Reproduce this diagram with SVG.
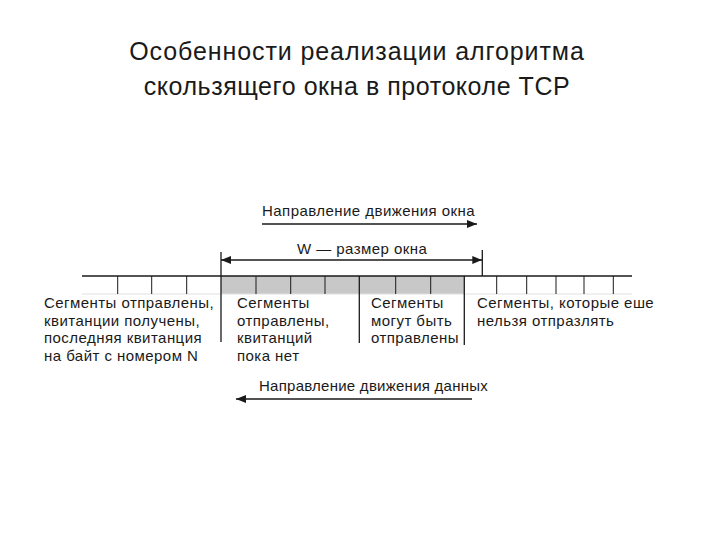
<svg xmlns="http://www.w3.org/2000/svg" width="720" height="540" viewBox="0 0 720 540">
<defs>
<style>
.t{font-family:"Liberation Sans",Arial,sans-serif;fill:#1a1a1a}
.title{font-size:25px;text-anchor:middle;letter-spacing:0.9px}
.lbl{font-size:15px;letter-spacing:0.45px}
.ln{stroke:#1a1a1a;stroke-width:1.3;fill:none}
.cell{stroke:#1a1a1a;stroke-width:1}
</style>
<marker id="ah" viewBox="0 0 10 10" refX="10" refY="5" markerWidth="10" markerHeight="10" markerUnits="userSpaceOnUse" orient="auto-start-reverse">
<path d="M0,1 L10,5 L0,9 Z" fill="#1a1a1a"/>
</marker>
</defs>
<rect width="720" height="540" fill="#fff"/>
<g id="title">
<text class="t title" x="357" y="60">Особенности реализации алгоритма</text>
<text class="t title" x="357" y="95" style="letter-spacing:0.55px">скользящего окна в протоколе TCP</text>
</g>
<g id="tape">
<rect x="221" y="276" width="243" height="18" fill="#c8c8c8"/>
<line x1="82" y1="294" x2="632" y2="294" stroke="#e0e0e0" stroke-width="1"/>
<line class="ln" x1="82" y1="276" x2="632" y2="276"/>
<g class="cell">
<line x1="117.7" y1="276" x2="117.7" y2="294"/>
<line x1="151.7" y1="276" x2="151.7" y2="294"/>
<line x1="186.7" y1="276" x2="186.7" y2="294"/>
<line x1="256" y1="276" x2="256" y2="294"/>
<line x1="290.7" y1="276" x2="290.7" y2="294"/>
<line x1="325" y1="276" x2="325" y2="294"/>
<line x1="395.7" y1="276" x2="395.7" y2="294"/>
<line x1="430.7" y1="276" x2="430.7" y2="294"/>
<line x1="496.7" y1="276" x2="496.7" y2="294"/>
<line x1="526.7" y1="276" x2="526.7" y2="294"/>
<line x1="556" y1="276" x2="556" y2="294"/>
<line x1="584" y1="276" x2="584" y2="294"/>
<line x1="613.3" y1="276" x2="613.3" y2="294"/>
</g>
<line class="ln" x1="221" y1="252" x2="221" y2="342"/>
<line class="ln" x1="359.3" y1="276" x2="359.3" y2="343"/>
<line class="ln" x1="464.3" y1="276" x2="464.3" y2="345"/>
<line class="ln" x1="482.3" y1="250" x2="482.3" y2="276"/>
</g>
<g id="connectors">
<line class="ln" x1="262" y1="224" x2="477" y2="224" marker-end="url(#ah)"/>
<line class="ln" x1="221" y1="260" x2="482.3" y2="260" marker-start="url(#ah)" marker-end="url(#ah)"/>
<line class="ln" x1="472" y1="399" x2="236" y2="399" marker-end="url(#ah)"/>
</g>
<g id="label-window-dir">
<text class="t lbl" x="262" y="216">Направление движения окна</text>
</g>
<g id="label-w">
<text class="t lbl" x="297" y="254">W — размер окна</text>
</g>
<g id="label-data-dir">
<text class="t lbl" x="259" y="391" style="letter-spacing:0.25px">Направление движения данных</text>
</g>
<g id="col-acked">
<text class="t lbl" x="44" y="308">Сегменты отправлены,</text>
<text class="t lbl" x="44" y="325.5">квитанции получены,</text>
<text class="t lbl" x="44" y="343">последняя квитанция</text>
<text class="t lbl" x="44" y="360.5">на байт с номером N</text>
</g>
<g id="col-sent">
<text class="t lbl" x="237" y="308">Сегменты</text>
<text class="t lbl" x="237" y="325.5">отправлены,</text>
<text class="t lbl" x="237" y="343">квитанций</text>
<text class="t lbl" x="237" y="360.5">пока нет</text>
</g>
<g id="col-can-send">
<text class="t lbl" x="371" y="308">Сегменты</text>
<text class="t lbl" x="371" y="325.5">могут быть</text>
<text class="t lbl" x="371" y="343">отправлены</text>
</g>
<g id="col-cannot-send">
<text class="t lbl" x="477" y="308">Сегменты, которые еше</text>
<text class="t lbl" x="477" y="325.5">нельзя отпразлять</text>
</g>
</svg>
